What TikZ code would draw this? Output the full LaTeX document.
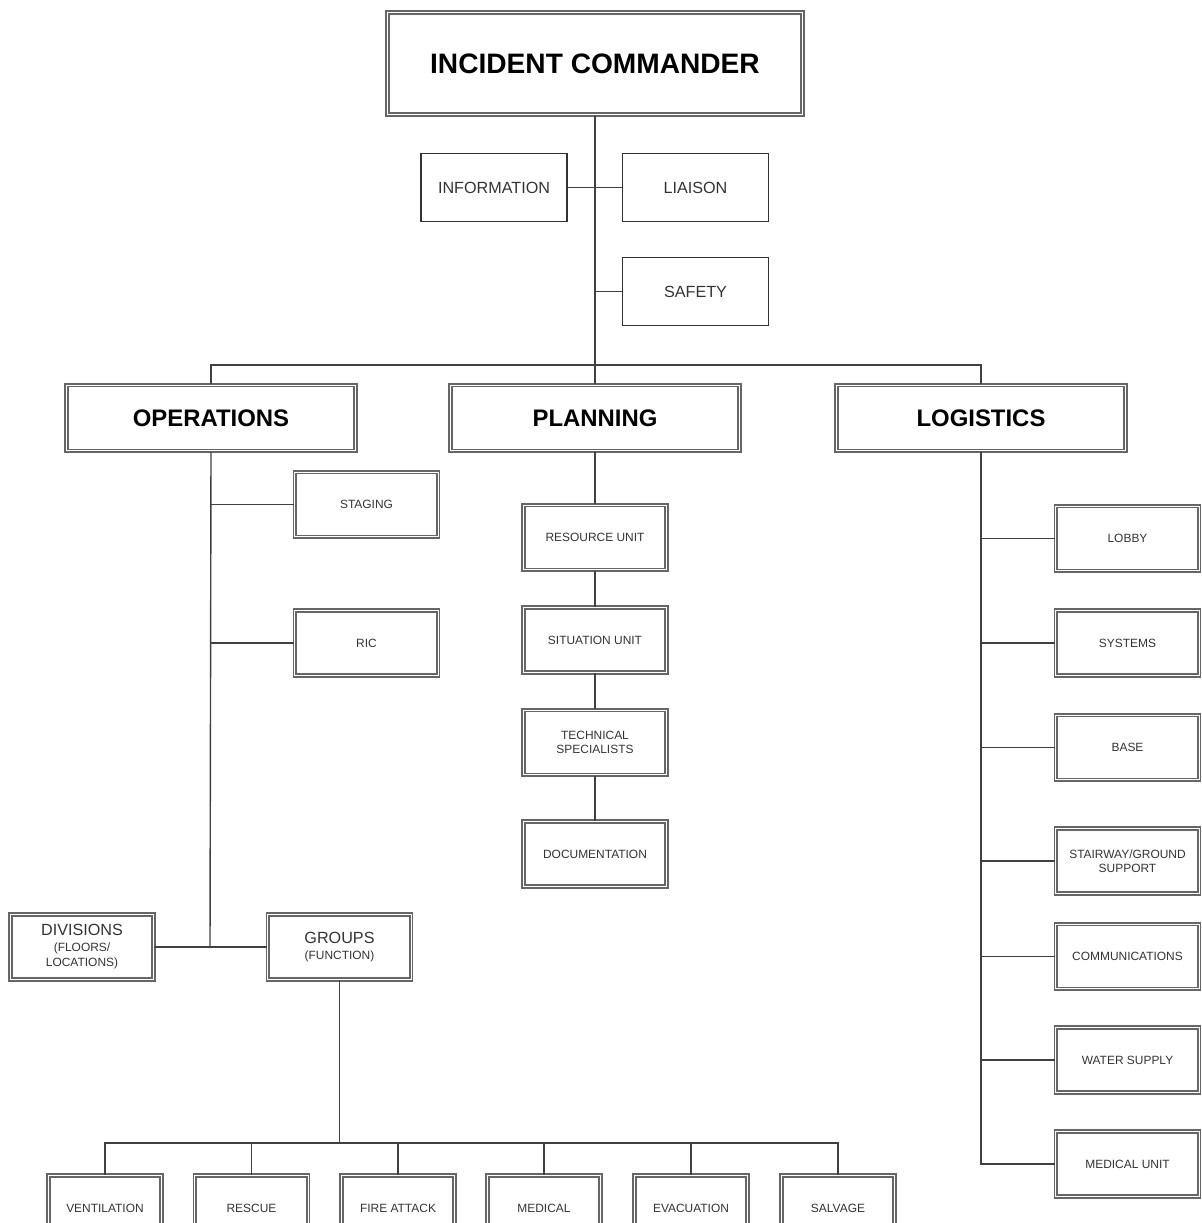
\documentclass[tikz,border=0pt]{standalone}
\usepackage{fontspec}
\setmainfont{Liberation Sans}

\begin{document}
\begin{tikzpicture}[x=0.025cm,y=-0.025cm,
 line/.style={draw=black!75,line width=1pt},
 plain/.style={draw=black!80,line width=0.9pt,minimum width=3.65cm,minimum height=1.7cm,inner sep=0pt,align=center,font=\fontsize{11.5}{13}\selectfont,text=black!80},
 unit/.style={draw=black!60,double=white,double distance=0.8pt,line width=1.2pt,minimum width=3.58cm,minimum height=1.62cm,inner sep=0pt,align=center,font=\fontsize{8.5}{10}\selectfont,text=black!80},
 head/.style={unit,minimum width=7.23cm,minimum height=1.64cm,font=\bfseries\fontsize{17}{20}\selectfont,text=black},
 group/.style={unit,font=\fontsize{11.5}{12}\selectfont},
 task/.style={unit,minimum width=2.83cm},
 small/.style={font=\fontsize{8.5}{9.5}\selectfont}]
 \useasboundingbox (0,0) rectangle (1202,1223);
 \clip (0,0) rectangle (1202,1223);
 \node[head,minimum width=10.38cm,minimum height=2.56cm,font=\bfseries\fontsize{20}{24}\selectfont] (ic) at (595,63.5) {INCIDENT COMMANDER};
 \node[plain] (info) at (494,187.5) {INFORMATION};
 \node[plain] (liaison) at (695.5,187.5) {LIAISON};
 \node[plain] (safety) at (695.5,291.5) {SAFETY};
 \node[head] (ops) at (211,418) {OPERATIONS};
 \node[head] (plan) at (595,418) {PLANNING};
 \node[head] (logi) at (981,418) {LOGISTICS};
 \node[unit] (staging) at (366.5,504.5) {STAGING};
 \node[unit] (ric) at (366.5,643) {RIC};
 \node[group] (div) at (82,947) {DIVISIONS\\[-1pt]{\fontsize{8.5}{9.5}\selectfont (FLOORS/}\\[-1pt]{\fontsize{8.5}{9.5}\selectfont LOCATIONS)}};
 \node[group] (grp) at (339.5,947) {GROUPS\\[-1pt]{\fontsize{8.5}{9.5}\selectfont (FUNCTION)}};
 \node[unit] (res) at (595,537.5) {RESOURCE UNIT};
 \node[unit] (sit) at (595,640) {SITUATION UNIT};
 \node[unit] (tech) at (595,742.5) {TECHNICAL\\SPECIALISTS};
 \node[unit] (doc) at (595,854) {DOCUMENTATION};
 \node[unit] (lobby) at (1127.5,538.5) {LOBBY};
 \node[unit] (systems) at (1127.5,643) {SYSTEMS};
 \node[unit] (base) at (1127.5,747.5) {BASE};
 \node[unit] (stair) at (1127.5,861) {STAIRWAY/GROUND\\SUPPORT};
 \node[unit] (comm) at (1127.5,956.5) {COMMUNICATIONS};
 \node[unit] (water) at (1127.5,1060) {WATER SUPPLY};
 \node[unit] (med) at (1127.5,1164) {MEDICAL UNIT};
 \node[task] (vent) at (105,1208) {VENTILATION};
 \node[task] (rescue) at (251.5,1208) {RESCUE};
 \node[task] (fire) at (398,1208) {FIRE ATTACK};
 \node[task] (medical) at (544,1208) {MEDICAL};
 \node[task] (evac) at (691,1208) {EVACUATION};
 \node[task] (salvage) at (838,1208) {SALVAGE};
 \coordinate (bar) at (595,365);
 \coordinate (opsj) at (210,948);
 \coordinate (gbar) at (339.5,1143);
 \draw[line] (ic.south) -- (plan.north);
 \draw[line] (info.east) -- (liaison.west);
 \draw[line] (safety.west) -- (safety.west -| ic.south);
 \draw[line] (ops.north) |- (bar) -| (logi.north);
 \draw[line] (ops.south) -- (opsj);
 \draw[line] (div.east) -- (grp.west);
 \draw[line] (staging.west) -- (staging.west -| ops.south);
 \draw[line] (ric.west) -- (ric.west -| ops.south);
 \draw[line] (plan.south) -- (res.north);
 \draw[line] (res.south) -- (sit.north);
 \draw[line] (sit.south) -- (tech.north);
 \draw[line] (tech.south) -- (doc.north);
 \draw[line] (logi.south) |- (med.west);
 \foreach \n in {lobby,systems,base,stair,comm,water}
  \draw[line] (\n.west) -- (\n.west -| logi.south);
 \draw[line] (grp.south) -- (gbar);
 \foreach \n in {vent,rescue,fire,medical,evac,salvage}
  \draw[line] (\n.north) |- (gbar);
\end{tikzpicture}
\end{document}
